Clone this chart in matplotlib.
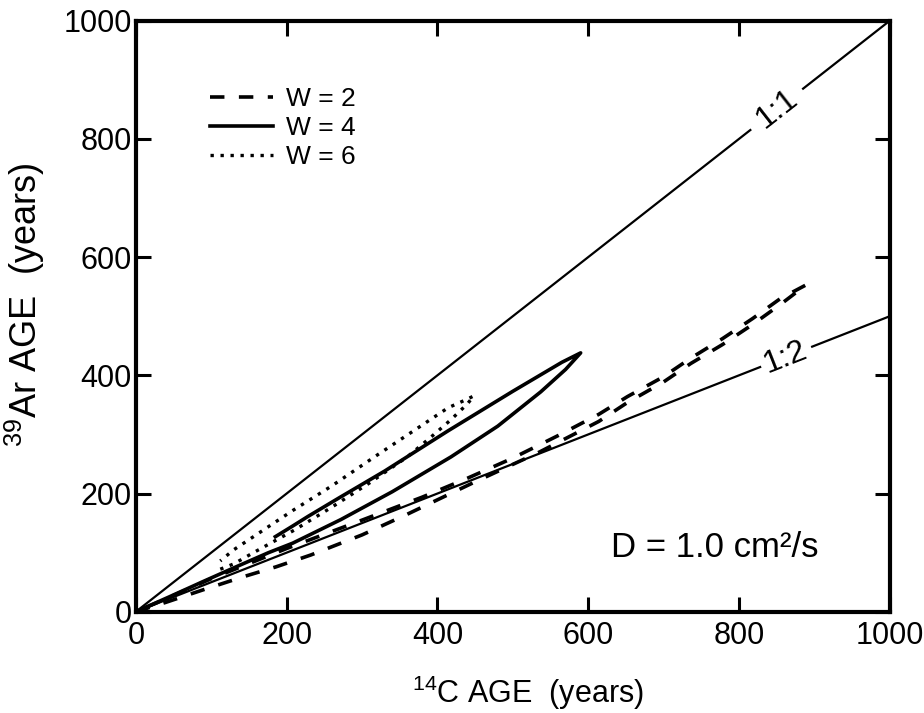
import numpy as np
import matplotlib
matplotlib.use("Agg")
import matplotlib.pyplot as plt
from matplotlib.lines import Line2D

# reference lines (gaps leave room for the ratio labels)
ratio_11_x = [0, 815, np.nan, 885, 1000]
ratio_11_y = [0, 815, np.nan, 885, 1000]
ratio_12_x = [0, 828, np.nan, 897, 1000]
ratio_12_y = [0, 414, np.nan, 448.5, 500]

# W = 2 (dashed): thin loop out to ~890 yr
w2_x = [0, 40, 89, 142, 186, 232, 300, 360, 447, 535, 614, 652, 699, 736, 778, 818, 855, 889,
        855, 818, 778, 736, 699, 652, 614, 560, 500, 440, 380, 300, 200, 100, 40, 0]
w2_y = [0, 16, 37, 59, 76, 96, 130, 165, 218, 270, 322, 354, 388, 420, 452, 486, 520, 553,
        530, 496, 462, 429, 397, 364, 334, 298, 260, 226, 194, 155, 107, 56, 22, 0]

# W = 4 (solid): lower branch from origin, tip near 590 yr, upper branch back to ~185 yr
w4_x = [0, 44, 89, 133, 176, 208, 272, 340, 418, 480, 537, 570, 590,
        565, 500, 414, 330, 270, 228, 208, 185]
w4_y = [0, 25, 51, 76, 100, 116, 156, 203, 262, 314, 372, 410, 438,
        422, 373, 306, 238, 193, 161, 145, 127]

# W = 6 (dotted)
w6_x = [112, 130, 156, 183, 210, 260, 310, 360, 391, 418, 440, 448,
        440, 414, 380, 320, 260, 209, 183, 156, 130, 112]
w6_y = [72, 81, 100, 119, 138, 177, 218, 262, 295, 325, 352, 365,
        360, 345, 316, 265, 213, 172, 150, 127, 105, 86]

ticks = [0, 200, 400, 600, 800, 1000]

plt.rcParams["font.family"] = ["Liberation Sans", "DejaVu Sans"]
plt.rcParams["mathtext.fontset"] = "custom"
plt.rcParams["mathtext.rm"] = "Liberation Sans"
plt.rcParams["mathtext.default"] = "regular"

fig = plt.figure(figsize=(9.24, 7.13), dpi=100)
ax = fig.add_axes([0.147, 0.142, 0.816, 0.829])

ax.plot(ratio_11_x, ratio_11_y, color="black", lw=1.6)
ax.plot(ratio_12_x, ratio_12_y, color="black", lw=1.6)
ax.plot(w2_x, w2_y, color="black", lw=2.6, dashes=(4, 4))
ax.plot(w4_x, w4_y, color="black", lw=2.6)
ax.plot(w6_x, w6_y, color="black", lw=2.4, dashes=(1, 2))

ax.text(850, 850, "1:1", fontsize=23, ha="center", va="center", rotation=45,
        transform_rotates_text=True, rotation_mode="anchor")
ax.text(862, 431, "1:2", fontsize=23, ha="center", va="center",
        rotation=np.degrees(np.arctan(0.5)), transform_rotates_text=True,
        rotation_mode="anchor")
ax.text(630, 108, "D = 1.0 cm²/s", fontsize=25, ha="left", va="center")

ax.set_xlim(0, 1000)
ax.set_ylim(0, 1000)
ax.set_xticks(ticks)
ax.set_yticks(ticks)
ax.tick_params(direction="in", length=11, width=2.2, labelsize=22,
               top=True, right=True)
ax.tick_params(axis="x", pad=7)
ax.tick_params(axis="y", pad=3)
for s in ax.spines.values():
    s.set_linewidth(3)

ax.set_xlabel("$^{14}$C AGE  (years)", fontsize=22)
ax.set_ylabel("$^{39}$Ar AGE  (years)", fontsize=26)
ax.xaxis.set_label_coords(0.52, -0.105)
ax.yaxis.set_label_coords(-0.118, 0.52)

handles = [
    Line2D([], [], color="black", lw=2.6, dashes=(4, 4)),
    Line2D([], [], color="black", lw=2.6),
    Line2D([], [], color="black", lw=2.4, dashes=(1, 2)),
]
ax.legend(handles, ["W = 2", "W = 4", "W = 6"], loc="upper left",
          bbox_to_anchor=(0.098, 0.888), frameon=False, fontsize=19,
          handlelength=2.4, handletextpad=0.5, labelspacing=0.2,
          borderpad=0, borderaxespad=0)

fig.savefig("out.png", dpi=100)
